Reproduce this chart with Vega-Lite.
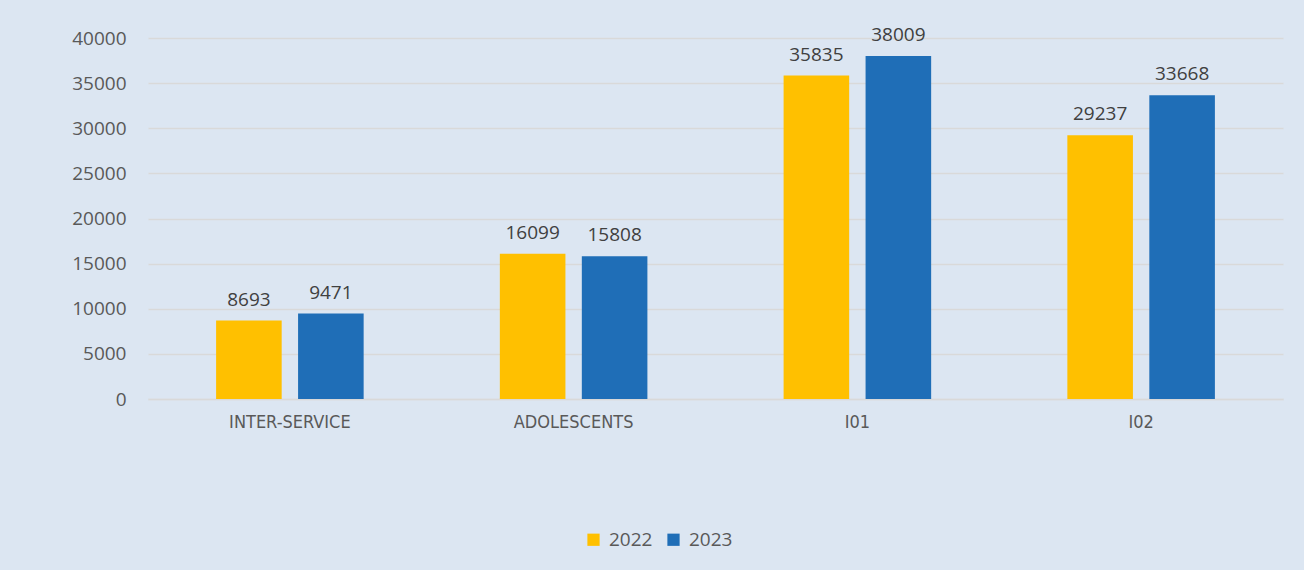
{
  "$schema": "https://vega.github.io/schema/vega-lite/v6.json",
  "width": 1135,
  "height": 361,
  "autosize": {"type": "none"},
  "padding": {"left": 148, "top": 38, "right": 21, "bottom": 171},
  "background": "#dce6f2",
  "config": {
    "view": {"stroke": null},
    "font": "Open Sans"
  },
  "data": {
    "values": [
      {"category": "INTER-SERVICE", "year": "2022", "value": 8693},
      {"category": "INTER-SERVICE", "year": "2023", "value": 9471},
      {"category": "ADOLESCENTS", "year": "2022", "value": 16099},
      {"category": "ADOLESCENTS", "year": "2023", "value": 15808},
      {"category": "I01", "year": "2022", "value": 35835},
      {"category": "I01", "year": "2023", "value": 38009},
      {"category": "I02", "year": "2022", "value": 29237},
      {"category": "I02", "year": "2023", "value": 33668}
    ]
  },
  "encoding": {
    "x": {
      "field": "category",
      "type": "nominal",
      "sort": ["INTER-SERVICE", "ADOLESCENTS", "I01", "I02"],
      "scale": {"paddingInner": 0.48, "paddingOuter": 0.24},
      "axis": {
        "title": null,
        "labelAngle": 0,
        "ticks": false,
        "domain": true,
        "domainColor": "#d9d9d9",
        "domainWidth": 1.5,
        "labelFont": "DejaVu Sans Condensed",
        "labelFontSize": 18,
        "labelColor": "#595959",
        "labelPadding": 14
      }
    },
    "xOffset": {
      "field": "year",
      "type": "nominal",
      "scale": {"paddingInner": 0.2}
    },
    "y": {
      "field": "value",
      "type": "quantitative",
      "scale": {"domain": [0, 40000], "nice": false},
      "axis": {
        "title": null,
        "values": [0, 5000, 10000, 15000, 20000, 25000, 30000, 35000, 40000],
        "format": "d",
        "domain": false,
        "ticks": false,
        "grid": true,
        "gridColor": "#d9d9d9",
        "gridWidth": 1.5,
        "labelFontSize": 19,
        "labelColor": "#595959",
        "labelPadding": 22
      }
    }
  },
  "layer": [
    {
      "mark": {"type": "bar"},
      "encoding": {
        "color": {
          "field": "year",
          "type": "nominal",
          "scale": {"domain": ["2022", "2023"], "range": ["#FFC000", "#1F6EB7"]},
          "legend": {
            "title": null,
            "orient": "none",
            "direction": "horizontal",
            "legendX": 436,
            "legendY": 492,
            "symbolType": "square",
            "symbolSize": 150,
            "symbolStrokeWidth": 0,
            "labelFontSize": 19,
            "labelColor": "#595959",
            "columnPadding": 11,
            "labelOffset": 6
          }
        }
      }
    },
    {
      "mark": {"type": "text", "baseline": "alphabetic", "dy": -15, "fontSize": 19, "color": "#404040"},
      "encoding": {
        "text": {"field": "value", "type": "quantitative", "format": "d"}
      }
    }
  ]
}
